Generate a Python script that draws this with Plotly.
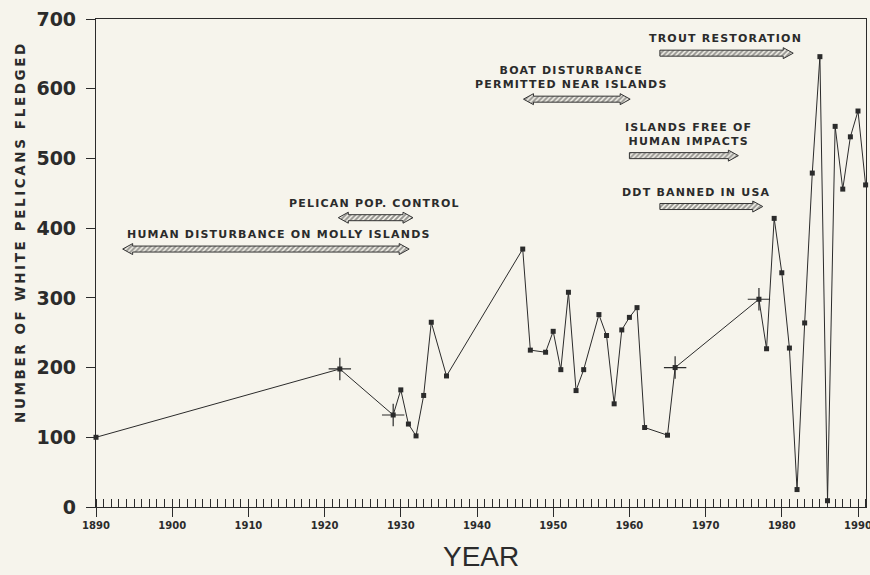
import plotly.graph_objects as go

# ---------------- data ----------------
years = [1890, 1922, 1929, 1930, 1931, 1932, 1933, 1934, 1936, 1946, 1947, 1949, 1950,
         1951, 1952, 1953, 1954, 1956, 1957, 1958, 1959, 1960, 1961, 1962, 1965, 1966,
         1977, 1978, 1979, 1980, 1981, 1982, 1983, 1984, 1985, 1986, 1987, 1988, 1989,
         1990, 1991]
fledged = [100, 198, 132, 168, 119, 102, 160, 265, 188, 370, 225, 222, 252,
           197, 308, 167, 197, 276, 246, 148, 254, 272, 286, 114, 103, 200,
           298, 227, 414, 336, 228, 25, 264, 479, 646, 9, 546, 456, 531,
           568, 462]
cross_years = [1922, 1929, 1966, 1977]

event_labels = ["HUMAN DISTURBANCE ON MOLLY ISLANDS", "PELICAN POP. CONTROL",
                "BOAT DISTURBANCE<br>PERMITTED NEAR ISLANDS", "TROUT RESTORATION",
                "ISLANDS FREE OF<br>HUMAN IMPACTS", "DDT BANNED IN USA"]
event_start = [1893.5, 1921.8, 1946.1, 1964.0, 1960.0, 1964.0]
event_end = [1931.1, 1931.6, 1960.1, 1981.5, 1974.3, 1977.5]
event_level = [370, 415, 585, 651, 504, 431]
event_text_x = [1914.0, 1926.5, 1952.4, 1972.6, 1967.8, 1968.8]
event_double = [True, True, True, False, False, False]

x_ticks = list(range(1890, 1991, 10))
y_ticks = list(range(0, 701, 100))

# ---------------- style ----------------
BG = "#f6f4ec"
INK = "#2b2b2b"
X_RANGE = [1890, 1991.05]
Y_RANGE = [0, 700]
W, H = 870, 575
PLOT_L, PLOT_R, PLOT_T, PLOT_B = 96, 866, 19, 507
px_per_x = (PLOT_R - PLOT_L) / (X_RANGE[1] - X_RANGE[0])
px_per_y = (PLOT_B - PLOT_T) / (Y_RANGE[1] - Y_RANGE[0])

head_len = 10 / px_per_x
shaft_half = 3 / px_per_y
head_half = 5.5 / px_per_y


def tracked(txt, sp):
    return '<span style="letter-spacing:%spx">%s</span>' % (sp, txt)


fig = go.Figure()

# arrows
for x0, x1, yv, dbl in zip(event_start, event_end, event_level, event_double):
    if dbl:
        xs = [x0, x0 + head_len, x0 + head_len, x1 - head_len, x1 - head_len, x1,
              x1 - head_len, x1 - head_len, x0 + head_len, x0 + head_len, x0]
        ys = [yv, yv + head_half, yv + shaft_half, yv + shaft_half, yv + head_half, yv,
              yv - head_half, yv - shaft_half, yv - shaft_half, yv - head_half, yv]
    else:
        xs = [x0, x1 - head_len, x1 - head_len, x1, x1 - head_len, x1 - head_len, x0, x0]
        ys = [yv + shaft_half, yv + shaft_half, yv + head_half, yv,
              yv - head_half, yv - shaft_half, yv - shaft_half, yv + shaft_half]
    fig.add_trace(go.Scatter(
        x=xs, y=ys, mode="lines", fill="toself",
        fillcolor=BG,
        fillpattern=dict(shape="/", fgcolor="#333333", bgcolor=BG, size=3.5, solidity=0.55),
        line=dict(color="#333333", width=1), hoverinfo="skip", showlegend=False))

# main series
fig.add_trace(go.Scatter(
    x=years, y=fledged, mode="lines+markers",
    line=dict(color=INK, width=1),
    marker=dict(symbol="square", size=5, color=INK),
    cliponaxis=False, showlegend=False))

cx = [y for y in years if y in cross_years]
cy = [v for y, v in zip(years, fledged) if y in cross_years]
fig.add_trace(go.Scatter(
    x=cx, y=cy, mode="markers",
    marker=dict(symbol="cross-thin", size=16, line=dict(color=INK, width=1.2)),
    showlegend=False))

# dummy trace so the overlay axis (inside major ticks) is drawn
fig.add_trace(go.Scatter(x=[years[0]], y=[fledged[0]], xaxis="x2", mode="markers",
                         marker=dict(size=1, color="rgba(0,0,0,0)"),
                         hoverinfo="skip", showlegend=False))

# event labels
for lab, tx, yv in zip(event_labels, event_text_x, event_level):
    lines = lab.split("<br>")
    txt = "<br>".join(tracked(s, 1.2) for s in lines)
    fig.add_annotation(x=tx, y=yv, xref="x", yref="y", text=txt, showarrow=False,
                       yanchor="bottom", yshift=6,
                       font=dict(family="DejaVu Sans", size=11, color=INK, weight="bold"))

# axis titles
fig.add_annotation(xref="paper", yref="paper",
                   x=(481 - PLOT_L) / (PLOT_R - PLOT_L),
                   y=-(H - 1 - PLOT_B) / (PLOT_B - PLOT_T),
                   text="YEAR", showarrow=False, xanchor="center", yanchor="bottom",
                   font=dict(family="Liberation Sans", size=28, color=INK))
fig.add_annotation(xref="paper", yref="paper",
                   x=-(PLOT_L - 20) / (PLOT_R - PLOT_L),
                   y=(PLOT_B - 232) / (PLOT_B - PLOT_T),
                   text=tracked("NUMBER OF WHITE PELICANS FLEDGED", 2.6),
                   textangle=-90, showarrow=False,
                   xanchor="center", yanchor="middle",
                   font=dict(family="DejaVu Sans", size=13.5, color=INK, weight="bold"))

fig.update_layout(
    width=W, height=H,
    paper_bgcolor=BG, plot_bgcolor=BG,
    margin=dict(l=PLOT_L, r=W - PLOT_R, t=PLOT_T, b=H - PLOT_B, autoexpand=False),
    xaxis=dict(range=X_RANGE, tickvals=x_ticks, ticktext=[str(v) for v in x_ticks],
               ticks="outside", ticklen=9, tickcolor=INK, tickwidth=1,
               minor=dict(dtick=1, ticks="inside", ticklen=8, tickcolor=INK, tickwidth=1),
               showgrid=False, zeroline=False, showline=True, linecolor=INK, linewidth=1.2,
               mirror=True, automargin=False, ticklabeloverflow="allow",
               tickfont=dict(family="DejaVu Sans", size=10, color=INK, weight="bold")),
    yaxis=dict(range=Y_RANGE, tickvals=y_ticks, ticks="outside", ticklen=9,
               tickcolor=INK, tickwidth=1, ticklabelstandoff=6,
               showgrid=False, zeroline=False, showline=True, linecolor=INK, linewidth=1.2,
               mirror=True, automargin=False, ticklabeloverflow="allow",
               tickfont=dict(family="DejaVu Sans", size=19, color=INK, weight="bold")),
    xaxis2=dict(range=X_RANGE, overlaying="x", tickvals=x_ticks, ticks="inside",
                ticklen=8, tickcolor=INK, tickwidth=1, showticklabels=False,
                showgrid=False, zeroline=False, side="bottom", anchor="y",
                automargin=False),
)
fig.write_html(
    "out.html",
    config={"displayModeBar": False},
    post_script="document.body.style.margin='0px';document.body.style.overflow='hidden';"
                "document.body.style.background='%s';" % BG,
)
